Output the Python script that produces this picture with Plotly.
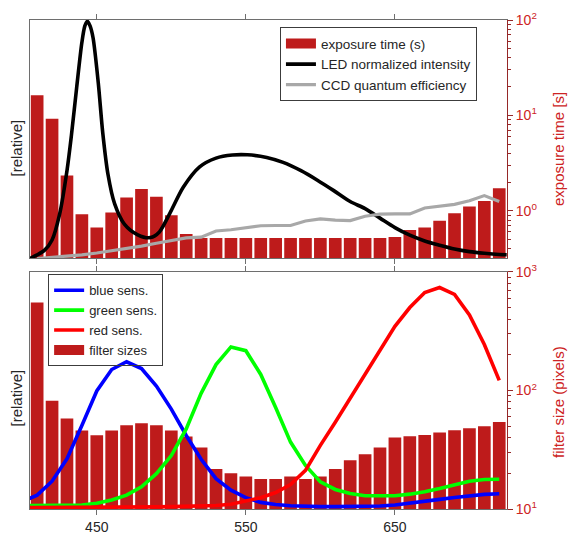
import plotly.graph_objects as go

# ---------------- data ----------------
bin_wavelength = list(range(410, 721, 10))  # nm, bar centres

exposure_time_s = [16.3, 9.2, 2.34, 0.92, 0.67, 0.96, 1.38, 1.69, 1.40, 0.90, 0.57,
                   0.52, 0.52, 0.52, 0.52, 0.52, 0.52, 0.52, 0.52, 0.52, 0.52, 0.52, 0.52, 0.52,
                   0.53, 0.63, 0.67, 0.785, 0.94, 1.11, 1.27, 1.72]

filter_sizes_px = [552, 82, 58, 46, 42, 46, 51, 53, 51, 46, 41, 33, 21.8, 20, 18.8, 17.9,
                   17.9, 18.8, 17.9, 18.8, 21.8, 25.8, 29, 33, 40.1, 41.2, 42.2, 44.2,
                   46.2, 48.1, 50, 54.3]

led_wavelength = [405, 410, 415, 420, 425, 430, 433, 436.5, 440, 442, 443.7, 445.5, 447.5,
                  451, 454, 457.5, 462, 468.5, 477.5, 486, 492, 499, 508, 519, 530, 541,
                  551, 564, 575, 587, 598, 609, 620, 630, 640, 650, 660, 670, 680, 690,
                  700, 710, 720, 725]
led_intensity = [0.0, 0.015, 0.035, 0.078, 0.185, 0.37, 0.52, 0.72, 0.91, 0.98, 1.0, 0.98,
                 0.93, 0.74, 0.53, 0.355, 0.23, 0.145, 0.10, 0.088, 0.112, 0.19, 0.30,
                 0.386, 0.423, 0.436, 0.437, 0.426, 0.405, 0.37, 0.33, 0.286, 0.24, 0.21,
                 0.17, 0.13, 0.098, 0.074, 0.056, 0.040, 0.029, 0.022, 0.017, 0.016]

ccd_wavelength = list(range(410, 721, 10))
ccd_qe = [0.0, 0.004, 0.009, 0.015, 0.023, 0.032, 0.042, 0.052, 0.064, 0.076, 0.087,
          0.09, 0.116, 0.121, 0.13, 0.138, 0.139, 0.139, 0.158, 0.167, 0.162, 0.16,
          0.178, 0.187, 0.188, 0.188, 0.213, 0.222, 0.228, 0.243, 0.265, 0.24]

sens_wavelength = list(range(400, 721, 10))
blue_sens = [0.025, 0.053, 0.112, 0.207, 0.348, 0.495, 0.586, 0.619, 0.59, 0.516, 0.418,
             0.306, 0.205, 0.123, 0.074, 0.042, 0.022, 0.013, 0.008, 0.005, 0.004, 0.004,
             0.004, 0.004, 0.007, 0.011, 0.018, 0.025, 0.035, 0.043, 0.05, 0.056, 0.059]
green_sens = [0.008, 0.008, 0.008, 0.008, 0.011, 0.018, 0.032, 0.053, 0.088, 0.144, 0.221,
              0.334, 0.485, 0.607, 0.682, 0.666, 0.565, 0.425, 0.278, 0.179, 0.109, 0.077,
              0.06, 0.05, 0.049, 0.05, 0.057, 0.067, 0.081, 0.098, 0.112, 0.119, 0.12]
red_sens = [0, 0, 0, 0, 0.001, 0.001, 0.001, 0.002, 0.002, 0.003, 0.004, 0.005, 0.006,
            0.009, 0.014, 0.028, 0.042, 0.064, 0.098, 0.158, 0.264, 0.362, 0.465, 0.565,
            0.67, 0.769, 0.849, 0.913, 0.934, 0.905, 0.818, 0.692, 0.54]

x_ticks = [450, 550, 650]
top_log_ticks = [1, 10, 100]
top_log_labels = ["10<sup>0</sup>", "10<sup>1</sup>", "10<sup>2</sup>"]
bot_log_ticks = [10, 100, 1000]
bot_log_labels = ["10<sup>1</sup>", "10<sup>2</sup>", "10<sup>3</sup>"]

# ---------------- style ----------------
BAR = "rgb(190,27,27)"
RED_AX = "rgb(205,35,35)"
RED_LINE = "rgb(150,40,40)"
FRAME = "rgb(110,110,110)"
TXT = "rgb(38,38,38)"
FONT = "Liberation Sans, Arial, sans-serif"


def minor_log(decades):
    return [m * 10 ** d for d in decades for m in range(2, 10)]


fig = go.Figure()

# ---- top panel ----
fig.add_trace(go.Bar(x=bin_wavelength, y=exposure_time_s, name="exposure time (s)",
                     marker=dict(color=BAR, line=dict(width=0)), showlegend=False,
                     xaxis="x", yaxis="y"))
fig.add_trace(go.Scatter(x=[None], y=[None], mode="lines", name="exposure time (s)",
                         line=dict(color=BAR, width=12), xaxis="x", yaxis="y2",
                         legend="legend"))
fig.add_trace(go.Scatter(x=led_wavelength, y=led_intensity, mode="lines",
                         name="LED normalized intensity",
                         line=dict(color="black", width=3.6, shape="spline", smoothing=0.8),
                         xaxis="x", yaxis="y2", legend="legend"))
fig.add_trace(go.Scatter(x=ccd_wavelength, y=ccd_qe, mode="lines",
                         name="CCD quantum efficiency",
                         line=dict(color="rgb(168,168,168)", width=3.2),
                         xaxis="x", yaxis="y2", legend="legend"))

# ---- bottom panel ----
fig.add_trace(go.Scatter(x=sens_wavelength, y=blue_sens, mode="lines", name="blue sens.",
                         line=dict(color="rgb(0,0,255)", width=3.6),
                         xaxis="x2", yaxis="y4", legend="legend2"))
fig.add_trace(go.Scatter(x=sens_wavelength, y=green_sens, mode="lines", name="green sens.",
                         line=dict(color="rgb(0,255,0)", width=3.6),
                         xaxis="x2", yaxis="y4", legend="legend2"))
fig.add_trace(go.Scatter(x=sens_wavelength, y=red_sens, mode="lines", name="red sens.",
                         line=dict(color="rgb(255,0,0)", width=3.6),
                         xaxis="x2", yaxis="y4", legend="legend2"))
fig.add_trace(go.Scatter(x=[None], y=[None], mode="lines", name="filter sizes",
                         line=dict(color=BAR, width=12), xaxis="x2", yaxis="y4",
                         legend="legend2"))
fig.add_trace(go.Bar(x=bin_wavelength, y=filter_sizes_px, name="filter sizes",
                     marker=dict(color=BAR, line=dict(width=0)), showlegend=False,
                     xaxis="x2", yaxis="y3"))

top_dom = [0.5123, 1.0]
bot_dom = [0.0, 0.4847]

xcommon = dict(range=[405.2, 725.2], tickvals=x_ticks, ticks="outside", ticklen=5,
               tickcolor=FRAME, showline=True, linecolor=FRAME, linewidth=1,
               mirror="ticks", showgrid=False, zeroline=False, automargin=False,
               tickfont=dict(size=14, color=TXT, family=FONT))

logcommon = dict(type="log", side="right", showgrid=False, zeroline=False,
                 showline=True, linecolor=RED_LINE, linewidth=1,
                 ticks="outside", ticklen=5, tickcolor=RED_LINE,
                 tickmode="array",
                 tickfont=dict(size=14, color=RED_AX, family=FONT),
                 automargin=False)

relcommon = dict(side="left", showgrid=False, zeroline=False, showline=True,
                 linecolor=FRAME, linewidth=1, ticks="", showticklabels=False,
                 automargin=False)

fig.update_layout(
    width=569, height=534,
    margin=dict(l=30, r=62, t=20, b=25),
    paper_bgcolor="white", plot_bgcolor="white",
    font=dict(family=FONT, color=TXT, size=13),
    bargap=0.15,
    showlegend=True,
    xaxis=dict(xcommon, anchor="y", domain=[0, 1], showticklabels=False),
    xaxis2=dict(xcommon, anchor="y3", domain=[0, 1], matches="x"),
    yaxis=dict(logcommon, domain=top_dom, anchor="x", range=[-0.5, 2.0],
               tickvals=top_log_ticks, ticktext=top_log_labels,
               minor=dict(ticks="outside", ticklen=3, tickcolor=RED_LINE,
                          tickvals=minor_log([-1, 0, 1]), showgrid=False)),
    yaxis2=dict(relcommon, overlaying="y", anchor="x", range=[0, 1.005]),
    yaxis3=dict(logcommon, domain=bot_dom, anchor="x2", range=[1, 3],
                tickvals=bot_log_ticks, ticktext=bot_log_labels,
                minor=dict(ticks="outside", ticklen=3, tickcolor=RED_LINE,
                           tickvals=minor_log([1, 2]), showgrid=False)),
    yaxis4=dict(relcommon, overlaying="y3", anchor="x2", range=[-0.006, 1.0]),
    legend=dict(x=0.524, y=0.985, xanchor="left", yanchor="top",
                bgcolor="white", bordercolor="rgb(60,60,60)", borderwidth=1,
                font=dict(size=13.5, color=TXT, family=FONT), traceorder="normal",
                itemwidth=30, tracegroupgap=0),
    legend2=dict(x=0.038, y=0.480, xanchor="left", yanchor="top",
                 bgcolor="rgba(255,255,255,0)", bordercolor="rgb(60,60,60)", borderwidth=1,
                 font=dict(size=13, color=TXT, family=FONT), traceorder="normal",
                 itemwidth=30, tracegroupgap=0),
    annotations=[
        dict(text="[relative]", xref="paper", yref="paper", x=(15.5 - 30) / 477,
             y=(509 - 148) / 489, textangle=-90, showarrow=False, xanchor="center",
             yanchor="middle", font=dict(size=15, color=TXT, family=FONT)),
        dict(text="[relative]", xref="paper", yref="paper", x=(15.5 - 30) / 477,
             y=(509 - 398) / 489, textangle=-90, showarrow=False, xanchor="center",
             yanchor="middle", font=dict(size=15, color=TXT, family=FONT)),
        dict(text="exposure time [s]", xref="paper", yref="paper", x=(558 - 30) / 477,
             y=(509 - 149) / 489, textangle=-90, showarrow=False, xanchor="center",
             yanchor="middle", font=dict(size=15, color=RED_AX, family=FONT)),
        dict(text="filter size (pixels)", xref="paper", yref="paper", x=(558 - 30) / 477,
             y=(509 - 402) / 489, textangle=-90, showarrow=False, xanchor="center",
             yanchor="middle", font=dict(size=15, color=RED_AX, family=FONT)),
    ],
)

fig.write_html("out.html", config={"displayModeBar": False},
               post_script="document.body.style.margin='0';document.body.style.overflow='hidden';")
